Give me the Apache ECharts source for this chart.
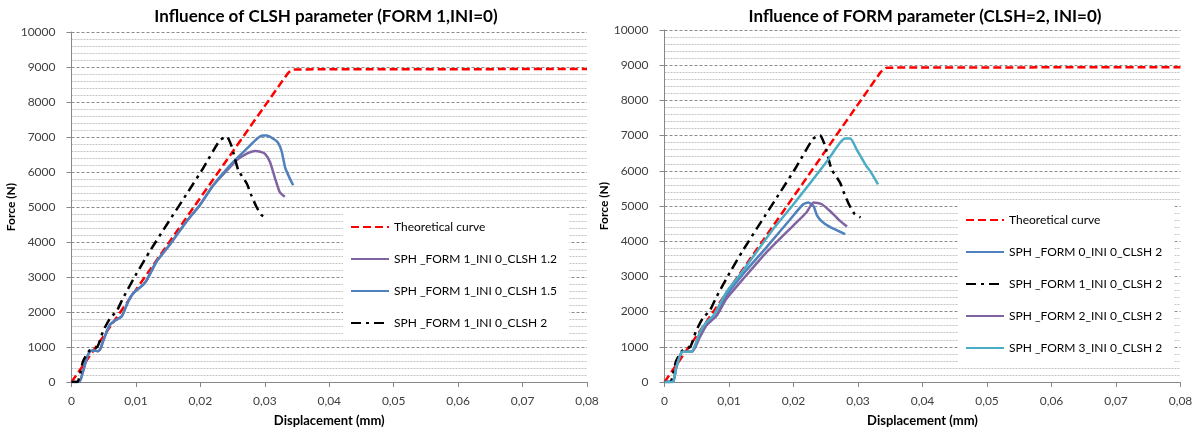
<!DOCTYPE html>
<html lang="en">
<head>
  <meta charset="UTF-8">
  <title>Influence of CLSH / FORM parameter</title>
  <script src="https://cdn.jsdelivr.net/npm/echarts@6/dist/echarts.min.js"></script>
  <style>
    body { margin: 0; background: #ffffff; }
    #chart { width: 1197px; height: 432px; }
  </style>
</head>
<body>
  <div id="chart"></div>

  <script>
    // [displacement (mm), force (N)]
    const theoretical = [[0, 0], [0.0335, 8800], [0.0345, 8930], [0.08, 8940]];

    const clsh12 = [[0, 0], [0.0012, 0], [0.0018, 313], [0.0024, 700], [0.0029, 880], [0.0035, 900], [0.0041, 880],
      [0.0045, 950], [0.0049, 1166], [0.0055, 1450], [0.006, 1640], [0.0067, 1752], [0.0078, 1878], [0.0088, 2304],
      [0.0096, 2540], [0.0111, 2777], [0.0117, 2919], [0.0132, 3442], [0.0153, 3935], [0.0179, 4600], [0.0199, 5050],
      [0.022, 5621], [0.0245, 6120], [0.0256, 6333], [0.0272, 6523], [0.0285, 6600], [0.0293, 6580], [0.030, 6523],
      [0.0308, 6287], [0.0316, 5812], [0.0323, 5434], [0.0331, 5292]];

    const clsh15 = [[0, 0], [0.0012, 0], [0.0018, 313], [0.0024, 700], [0.0029, 880], [0.0035, 900], [0.0041, 880],
      [0.0045, 950], [0.0049, 1166], [0.0055, 1450], [0.006, 1640], [0.0067, 1752], [0.0078, 1878], [0.0088, 2304],
      [0.0096, 2540], [0.0111, 2777], [0.0117, 2919], [0.0132, 3442], [0.0153, 3935], [0.0179, 4600], [0.0199, 5050],
      [0.022, 5621], [0.0251, 6287], [0.0272, 6666], [0.0288, 6950], [0.0297, 7040], [0.0303, 7040], [0.0313, 6950],
      [0.032, 6850], [0.0326, 6600], [0.0332, 6100], [0.0344, 5620]];

    const clsh2 = [[0, 0], [0.0009, 0], [0.0018, 597], [0.0028, 900], [0.004, 1000], [0.0049, 1451], [0.006, 1829],
      [0.007, 2020], [0.008, 2398], [0.0101, 3100], [0.0122, 3750], [0.0148, 4500], [0.0179, 5380], [0.0204, 6100],
      [0.023, 6900], [0.0241, 7010], [0.0248, 6760], [0.0251, 6572], [0.0259, 6048], [0.0272, 5670], [0.0279, 5337],
      [0.0287, 5007], [0.0295, 4768], [0.0304, 4674]];

    const form0 = [[0, 0], [0.0013, 0], [0.0018, 400], [0.0027, 850], [0.0035, 860], [0.0042, 860], [0.0055, 1373],
      [0.0071, 1749], [0.0081, 1900], [0.0096, 2456], [0.0122, 3070], [0.0158, 3825], [0.0195, 4625], [0.0215, 5050],
      [0.0223, 5098], [0.0231, 5000], [0.0236, 4750], [0.0243, 4580], [0.0255, 4420], [0.028, 4200]];

    const form2 = [[0, 0], [0.0013, 0], [0.0018, 400], [0.0027, 850], [0.0035, 860], [0.0043, 860], [0.0055, 1279],
      [0.0065, 1607], [0.0081, 1890], [0.0096, 2362], [0.0122, 2928], [0.0158, 3683], [0.02, 4450], [0.022, 4815],
      [0.0231, 5098], [0.0244, 5050], [0.0259, 4815], [0.0272, 4577], [0.0283, 4419]];

    const form3 = [[0, 0], [0.0013, 0], [0.0018, 400], [0.0027, 854], [0.0035, 860], [0.0042, 860], [0.0055, 1420],
      [0.0065, 1703], [0.0076, 1890], [0.0096, 2552], [0.0117, 3050], [0.0143, 3700], [0.017, 4380], [0.02, 5050],
      [0.0251, 6250], [0.0272, 6795], [0.028, 6916], [0.0288, 6916], [0.0298, 6605], [0.0313, 6133], [0.0319, 5991],
      [0.0331, 5615]];

    const titles = ['Influence of CLSH parameter (FORM 1,INI=0)', 'Influence of FORM parameter (CLSH=2, INI=0)'];
    const names = {
      theo: 'Theoretical curve',
      c12: 'SPH _FORM 1_INI 0_CLSH 1.2',
      c15: 'SPH _FORM 1_INI 0_CLSH 1.5',
      c2: 'SPH _FORM 1_INI 0_CLSH 2',
      f0: 'SPH _FORM 0_INI 0_CLSH 2',
      f2: 'SPH _FORM 2_INI 0_CLSH 2',
      f3: 'SPH _FORM 3_INI 0_CLSH 2'
    };

    const FONT = 'Lato';
    const chart = echarts.init(document.getElementById('chart'));

    function xAxis(grid) {
      return {
        type: 'value', gridIndex: grid, min: 0, max: 0.08, interval: 0.01,
        name: 'Displacement (mm)', nameLocation: 'middle', nameGap: 32,
        nameTextStyle: { fontFamily: FONT, fontWeight: 'bold', fontSize: 13, color: '#000' },
        axisLine: { lineStyle: { color: '#888', width: 1 } },
        axisTick: { show: true, length: 5, lineStyle: { color: '#888' } },
        axisLabel: {
          fontFamily: FONT, fontSize: 12, color: '#404040', margin: 13,
          formatter: v => v === 0 ? '0' : v.toFixed(2).replace('.', ',')
        },
        splitLine: { show: false }
      };
    }

    function yAxis(grid) {
      return {
        type: 'value', gridIndex: grid, min: 0, max: 10000, interval: 1000,
        name: 'Force (N)', nameLocation: 'middle', nameGap: 47,
        nameTextStyle: { fontFamily: FONT, fontWeight: 'bold', fontSize: 12, color: '#000' },
        axisLine: { show: true, lineStyle: { color: '#888', width: 1 } },
        axisTick: { show: true, length: 5, lineStyle: { color: '#888' } },
        axisLabel: { fontFamily: FONT, fontSize: 12, color: '#404040', margin: 16, formatter: v => String(v) },
        splitLine: { show: true, lineStyle: { color: '#8c8c8c', type: [3, 2] } },
        minorTick: { show: false, splitNumber: 5 },
        minorSplitLine: { show: true, lineStyle: { color: '#c4c4c4', type: [2, 1] } }
      };
    }

    function line(name, data, grid, color, type) {
      return {
        name: name, type: 'line', data: data,
        xAxisIndex: grid, yAxisIndex: grid,
        showSymbol: false, symbol: 'none', smooth: 0.2,
        lineStyle: { color: color, width: 2.5, type: type || 'solid' },
        itemStyle: { color: color }
      };
    }

    const dashRed = [8, 4];
    const dashDot = [10, 5, 3, 5];

    const legendCommon = {
      orient: 'vertical', backgroundColor: '#ffffff',
      itemWidth: 38, itemHeight: 14, itemGap: 20, padding: [11, 12, 11, 7],
      itemStyle: { opacity: 0, borderWidth: 0 },
      textStyle: { fontFamily: FONT, fontSize: 12, color: '#000' }
    };

    const option = {
      animation: false,
      backgroundColor: '#ffffff',
      title: [
        { text: titles[0], left: 321, top: 3, textAlign: 'center',
          textStyle: { fontFamily: FONT, fontWeight: 'bold', fontSize: 17, color: '#000' } },
        { text: titles[1], left: 920, top: 3, textAlign: 'center',
          textStyle: { fontFamily: FONT, fontWeight: 'bold', fontSize: 17, color: '#000' } }
      ],
      legend: [
        Object.assign({ left: 343, top: 210, data: [names.theo, names.c12, names.c15, names.c2] }, legendCommon),
        Object.assign({ left: 958, top: 203, data: [names.theo, names.f0, names.c2, names.f2, names.f3] }, legendCommon)
      ],
      grid: [
        { left: 71.5, top: 32, width: 515.5, height: 352 },
        { left: 664.5, top: 30, width: 516, height: 353.5 }
      ],
      xAxis: [xAxis(0), xAxis(1)],
      yAxis: [yAxis(0), yAxis(1)],
      series: [
        line(names.theo, theoretical, 0, '#ff0000', dashRed),
        line(names.c12, clsh12, 0, '#8064a2'),
        line(names.c15, clsh15, 0, '#4f81bd'),
        line(names.c2, clsh2, 0, '#000000', dashDot),
        line(names.theo, theoretical, 1, '#ff0000', dashRed),
        line(names.f0, form0, 1, '#4f81bd'),
        line(names.c2, clsh2, 1, '#000000', dashDot),
        line(names.f2, form2, 1, '#8064a2'),
        line(names.f3, form3, 1, '#4bacc6')
      ]
    };

    chart.setOption(option);
  </script>
</body>
</html>
